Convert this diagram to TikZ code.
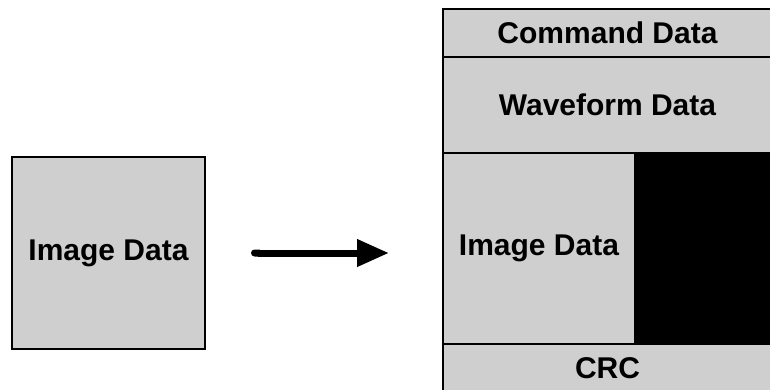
\documentclass[tikz,border=0pt]{standalone}
\usepackage{fontspec}
\setmainfont{Liberation Sans}
\usetikzlibrary{arrows.meta}
\definecolor{noisegray}{HTML}{CFCFCF}
\tikzset{
    field/.style={draw=black,line width=2pt,fill=noisegray,inner sep=0pt,
        font=\fontsize{30}{32}\selectfont\bfseries},
    arr/.style={line width=7pt,{Round Cap[]}-{Triangle[length=32pt,width=26pt]}}
}
\begin{document}
\begin{tikzpicture}[x=1pt,y=-1pt]
            \useasboundingbox (0,0) rectangle (770,390);

            \node[field,minimum width=193pt,minimum height=192pt] (src) at (108.5,253) {Image Data};

            \node[field,minimum width=329pt,minimum height=48pt] (cmd) at (607.5,33) {Command Data};
            \node[field,minimum width=329pt,minimum height=96pt] (wave) at (607.5,105) {Waveform Data};
            \node[field,minimum width=192pt,minimum height=191pt] (img) at (539,248.5) {Image Data};
            \node[field,fill=black,minimum width=137pt,minimum height=191pt] (pad) at (703.5,248.5) {};
            \node[field,minimum width=329pt,minimum height=48pt] (crc) at (607.5,368) {CRC};

            \draw[arr] ([xshift=45pt]src.east) -- ([xshift=-53pt]src.east -| img.west);
        \end{tikzpicture}
\end{document}
